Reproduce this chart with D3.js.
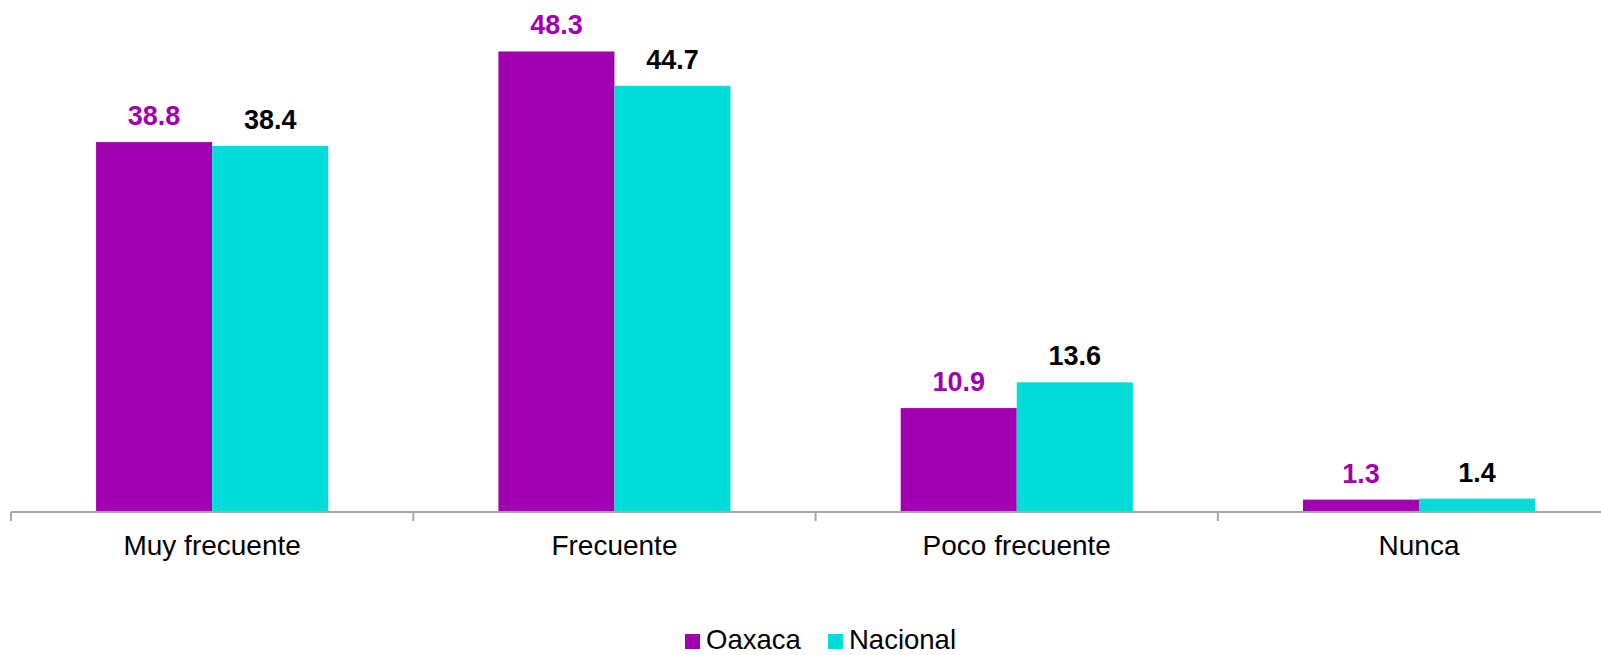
<!DOCTYPE html>
<html>
<head>
<meta charset="utf-8">
<script src="https://cdn.jsdelivr.net/npm/d3@7"></script>
<style>
    body { margin: 0; background: #fff; }
    svg { display: block; font-family: "Liberation Sans", Arial, sans-serif; }
</style>
</head>
<body>
<svg id="chart" width="1601" height="655"></svg>
<script>
const categories = ["Muy frecuente", "Frecuente", "Poco frecuente", "Nunca"];
const seriesNames = ["Oaxaca", "Nacional"];
const oaxaca = [38.8, 48.3, 10.9, 1.3];
const nacional = [38.4, 44.7, 13.6, 1.4];

const colours = {"Oaxaca": "#a100b0", "Nacional": "#00ddd8"};
const labelColours = {"Oaxaca": "#a100b0", "Nacional": "#000000"};

let svg = d3.select("#chart");
let baseline = 512;

// the last category runs off the right edge in the original
let x0 = d3.scaleBand()
    .domain(categories)
    .range([11, 11 + 402.3 * 4])
    .paddingInner(0.423)
    .paddingOuter(0.2115);

let x1 = d3.scaleBand()
    .domain(seriesNames)
    .range([0, x0.bandwidth()]);

let y = d3.scaleLinear()
    .domain([0, 53.7])
    .range([baseline, 0]);

let rows = categories.map(function (c, i) {
    return {cat: c, values: [{name: "Oaxaca", v: oaxaca[i]}, {name: "Nacional", v: nacional[i]}]};
});

let groups = svg.append("g")
    .selectAll("g")
    .data(rows)
    .enter()
    .append("g")
    .attr("transform", d => "translate(" + x0(d.cat) + ",0)");

groups.selectAll("rect")
    .data(d => d.values)
    .enter()
    .append("rect")
    .attr("x", d => x1(d.name))
    .attr("y", d => y(d.v))
    .attr("width", x1.bandwidth())
    .attr("height", d => baseline - y(d.v))
    .attr("fill", d => colours[d.name]);

groups.selectAll("text")
    .data(d => d.values)
    .enter()
    .append("text")
    .attr("x", d => x1(d.name) + x1.bandwidth() / 2)
    .attr("y", d => y(d.v) - 17)
    .attr("text-anchor", "middle")
    .attr("font-size", "27px")
    .attr("font-weight", "bold")
    .attr("fill", d => labelColours[d.name])
    .text(d => d.v.toFixed(1));

// category axis with ticks between groups
let step = x0.step();
let axis = svg.append("g");
axis.append("line")
    .attr("x1", 11).attr("x2", 1601)
    .attr("y1", baseline).attr("y2", baseline)
    .attr("stroke", "#a6a6a6").attr("stroke-width", 2);

axis.selectAll(".tick")
    .data(d3.range(categories.length + 1))
    .enter()
    .append("line")
    .attr("x1", i => 11 + i * step).attr("x2", i => 11 + i * step)
    .attr("y1", baseline).attr("y2", baseline + 9)
    .attr("stroke", "#a6a6a6").attr("stroke-width", 2);

axis.selectAll(".cat")
    .data(categories)
    .enter()
    .append("text")
    .attr("x", d => x0(d) + x0.bandwidth() / 2)
    .attr("y", 555)
    .attr("text-anchor", "middle")
    .attr("font-size", "28px")
    .attr("fill", "#000")
    .text(d => d);

// legend, nudged up slightly so the text is not clipped by the bottom edge
let legendX = [685, 828];
let legend = svg.append("g");
seriesNames.forEach(function (name, i) {
    legend.append("rect")
        .attr("x", legendX[i]).attr("y", 634)
        .attr("width", 15).attr("height", 15)
        .attr("fill", colours[name]);
    legend.append("text")
        .attr("x", legendX[i] + 21).attr("y", 649)
        .attr("font-size", "27.5px")
        .attr("fill", "#000")
        .text(name);
});
</script>
</body>
</html>
